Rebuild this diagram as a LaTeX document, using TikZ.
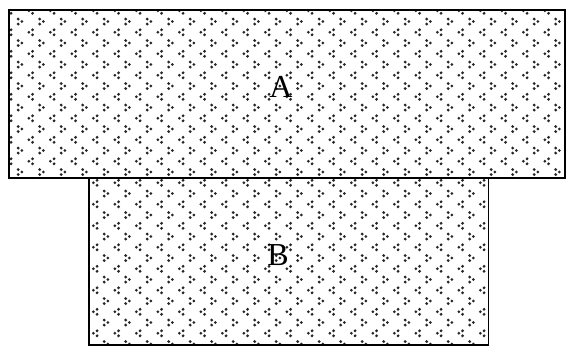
\documentclass[tikz,border=0pt]{standalone}
\usepackage{fontspec}
\setmainfont{Liberation Serif}
\tikzset{
  frame/.style={draw=black, line width=1.6pt},
  lbl/.style={inner sep=0pt, font=\fontsize{32}{34}\selectfont},
  dot/.style={fill=black!85}
}
\newcommand{\mydots}{%
  \foreach \i in {-1,...,26}{
    \foreach \j in {-1,...,16}{
      \pgfmathsetmacro{\cx}{20+21.5*\i}
      \pgfmathsetmacro{\cy}{21.5+21.5*\j}
      \fill[dot] (\cx-1.8,\cy-2.5) circle (1.55);
      \fill[dot] (\cx-1.8,\cy+2.5) circle (1.55);
      \fill[dot] (\cx+1.9,\cy) circle (1.55);
      \pgfmathsetmacro{\dx}{\cx+10.75}
      \pgfmathsetmacro{\dy}{\cy+10.75}
      \fill[dot] (\dx+1.8,\dy-2.5) circle (1.55);
      \fill[dot] (\dx+1.8,\dy+2.5) circle (1.55);
      \fill[dot] (\dx-1.9,\dy) circle (1.55);
    }
  }%
}
\begin{document}
\begin{tikzpicture}[x=1pt,y=-1pt]
\useasboundingbox (0,0) rectangle (566,346);
\coordinate (a1) at (8.8,10);
\coordinate (a2) at (565,178);
\coordinate (b1) at (88.8,178);
\coordinate (b2) at (488.6,345.2);
\begin{scope}
  \clip (a1) rectangle (a2) (b1) rectangle (b2);
  \mydots
\end{scope}
\draw[frame] (a1) rectangle (a2);
\draw[frame] (b1) rectangle (b2);
\node[lbl] (A) at (281,87) {A};
\node[lbl] (B) at (278,255.5) {B};
\end{tikzpicture}
\end{document}
